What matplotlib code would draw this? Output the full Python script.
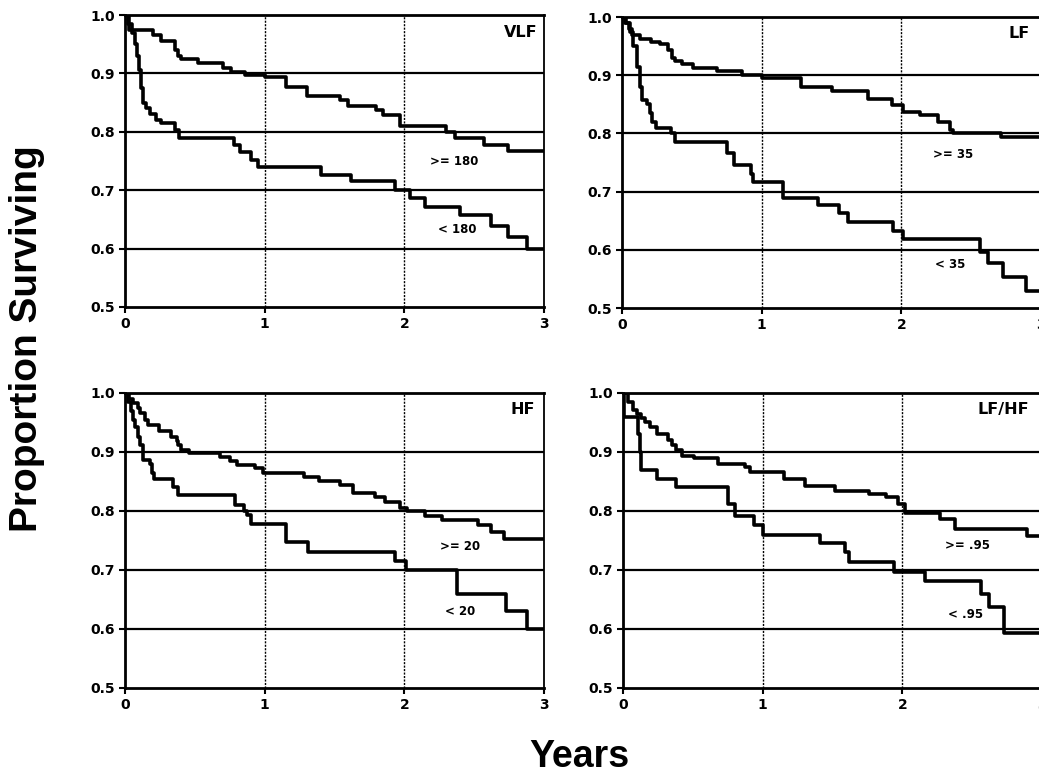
import numpy as np
import matplotlib
matplotlib.use("Agg")
import matplotlib.pyplot as plt

# survival curves (time in years, proportion surviving)
vlf_hi_t = [0, 0.03, 0.20, 0.26, 0.36, 0.38, 0.40, 0.52, 0.70, 0.76, 0.86, 1.00, 1.15, 1.30, 1.54, 1.60, 1.80, 1.85, 1.97, 2.30, 2.36, 2.57, 2.74, 3.0]
vlf_hi_s = [1.0, 0.975, 0.965, 0.955, 0.94, 0.93, 0.925, 0.918, 0.91, 0.903, 0.898, 0.893, 0.876, 0.862, 0.855, 0.845, 0.838, 0.828, 0.81, 0.80, 0.79, 0.778, 0.767, 0.767]
vlf_lo_t = [0, 0.02, 0.05, 0.07, 0.085, 0.10, 0.115, 0.13, 0.15, 0.18, 0.22, 0.26, 0.36, 0.39, 0.78, 0.82, 0.90, 0.95, 1.40, 1.62, 1.93, 2.04, 2.15, 2.40, 2.62, 2.74, 2.88, 3.0]
vlf_lo_s = [1.0, 0.985, 0.97, 0.95, 0.93, 0.905, 0.875, 0.85, 0.84, 0.83, 0.82, 0.815, 0.803, 0.79, 0.778, 0.766, 0.752, 0.74, 0.726, 0.715, 0.70, 0.686, 0.672, 0.658, 0.638, 0.62, 0.60, 0.60]

lf_hi_t = [0, 0.02, 0.05, 0.07, 0.13, 0.21, 0.27, 0.33, 0.36, 0.38, 0.43, 0.51, 0.68, 0.86, 1.0, 1.28, 1.50, 1.76, 1.93, 2.01, 2.13, 2.26, 2.35, 2.37, 2.71, 3.0]
lf_hi_s = [1.0, 0.99, 0.98, 0.969, 0.963, 0.957, 0.953, 0.943, 0.93, 0.925, 0.92, 0.913, 0.907, 0.90, 0.895, 0.88, 0.873, 0.86, 0.849, 0.837, 0.832, 0.82, 0.806, 0.80, 0.794, 0.794]
lf_lo_t = [0, 0.03, 0.06, 0.08, 0.107, 0.125, 0.143, 0.18, 0.20, 0.215, 0.24, 0.35, 0.38, 0.75, 0.80, 0.92, 0.94, 1.15, 1.40, 1.55, 1.62, 1.94, 2.01, 2.56, 2.62, 2.73, 2.89, 3.0]
lf_lo_s = [1.0, 0.99, 0.975, 0.95, 0.914, 0.88, 0.857, 0.85, 0.835, 0.82, 0.81, 0.80, 0.786, 0.766, 0.746, 0.73, 0.717, 0.689, 0.677, 0.663, 0.647, 0.632, 0.618, 0.596, 0.578, 0.553, 0.529, 0.529]

hf_hi_t = [0, 0.03, 0.06, 0.09, 0.107, 0.14, 0.167, 0.24, 0.33, 0.37, 0.38, 0.40, 0.46, 0.68, 0.75, 0.80, 0.93, 0.99, 1.28, 1.39, 1.54, 1.63, 1.79, 1.86, 1.97, 2.02, 2.15, 2.27, 2.53, 2.62, 2.71, 3.0]
hf_hi_s = [1.0, 0.99, 0.983, 0.975, 0.966, 0.955, 0.946, 0.935, 0.926, 0.918, 0.912, 0.903, 0.898, 0.892, 0.884, 0.878, 0.872, 0.865, 0.858, 0.85, 0.844, 0.83, 0.824, 0.816, 0.805, 0.80, 0.791, 0.785, 0.776, 0.764, 0.753, 0.753]
hf_lo_t = [0, 0.02, 0.04, 0.06, 0.07, 0.09, 0.107, 0.13, 0.18, 0.19, 0.21, 0.345, 0.38, 0.79, 0.85, 0.87, 0.90, 1.15, 1.31, 1.93, 2.01, 2.38, 2.73, 2.88, 3.0]
hf_lo_s = [1.0, 0.985, 0.97, 0.955, 0.943, 0.925, 0.912, 0.886, 0.88, 0.865, 0.855, 0.84, 0.827, 0.81, 0.80, 0.793, 0.778, 0.747, 0.73, 0.716, 0.70, 0.659, 0.63, 0.60, 0.60]

lfhf_hi_t = [0, 0.035, 0.07, 0.10, 0.13, 0.16, 0.19, 0.24, 0.32, 0.35, 0.38, 0.42, 0.51, 0.68, 0.87, 0.91, 1.15, 1.30, 1.52, 1.76, 1.88, 1.97, 2.02, 2.27, 2.38, 2.89, 3.0]
lfhf_hi_s = [1.0, 0.985, 0.971, 0.964, 0.957, 0.95, 0.943, 0.931, 0.92, 0.912, 0.903, 0.894, 0.889, 0.88, 0.874, 0.866, 0.854, 0.843, 0.834, 0.829, 0.823, 0.811, 0.797, 0.786, 0.769, 0.757, 0.757]
lfhf_lo_t = [0, 0.01, 0.11, 0.12, 0.13, 0.24, 0.38, 0.75, 0.80, 0.94, 1.0, 1.41, 1.59, 1.62, 1.94, 2.16, 2.56, 2.62, 2.73, 3.0]
lfhf_lo_s = [1.0, 0.96, 0.93, 0.90, 0.869, 0.854, 0.84, 0.811, 0.791, 0.777, 0.76, 0.746, 0.731, 0.714, 0.697, 0.681, 0.66, 0.637, 0.593, 0.593]

panel_names = ["VLF", "LF", "HF", "LF/HF"]
hi_labels = [">= 180", ">= 35", ">= 20", ">= .95"]
lo_labels = ["< 180", "< 35", "< 20", "< .95"]
# label anchor points (years, proportion)
hi_label_pos = [(2.36, 0.75), (2.37, 0.763), (2.40, 0.74), (2.47, 0.742)]
lo_label_pos = [(2.38, 0.632), (2.35, 0.574), (2.40, 0.629), (2.45, 0.624)]
name_pos = [(2.83, 0.97), (2.84, 0.972), (2.85, 0.972), (2.72, 0.972)]

curves = [
    (vlf_hi_t, vlf_hi_s, vlf_lo_t, vlf_lo_s),
    (lf_hi_t, lf_hi_s, lf_lo_t, lf_lo_s),
    (hf_hi_t, hf_hi_s, hf_lo_t, hf_lo_s),
    (lfhf_hi_t, lfhf_hi_s, lfhf_lo_t, lfhf_lo_s),
]

# axes boxes in figure fractions [left, bottom, width, height]; right column runs off the page as in the scan
boxes = [
    [0.1203, 0.6054, 0.4033, 0.3753],
    [0.5987, 0.6041, 0.4033, 0.3740],
    [0.1203, 0.1157, 0.4033, 0.3792],
    [0.5996, 0.1157, 0.4033, 0.3792],
]

fig = plt.figure(figsize=(10.39, 7.78), dpi=100)

for i in range(4):
    ax = fig.add_axes(boxes[i])
    hi_t, hi_s, lo_t, lo_s = curves[i]
    ax.set_xlim(0, 3)
    ax.set_ylim(0.5, 1.0)

    for yv in [0.6, 0.7, 0.8, 0.9]:
        ax.axhline(yv, color="black", lw=1.6, zorder=1)
    for xv in [1, 2]:
        ax.axvline(xv, color="black", lw=1.0, ls=(0, (1.5, 1.0)), zorder=1)

    ax.step(hi_t, hi_s, where="post", color="black", lw=2.6, zorder=3)
    ax.step(lo_t, lo_s, where="post", color="black", lw=2.6, zorder=3)

    ax.text(*hi_label_pos[i], hi_labels[i], ha="center", va="center",
            fontsize=8.5, fontweight="bold", family="DejaVu Sans")
    ax.text(*lo_label_pos[i], lo_labels[i], ha="center", va="center",
            fontsize=8.5, fontweight="bold", family="DejaVu Sans")
    ax.text(*name_pos[i], panel_names[i], ha="center", va="center",
            fontsize=11.5, fontweight="bold", family="DejaVu Sans")

    ax.set_xticks([0, 1, 2, 3])
    ax.set_yticks([0.5, 0.6, 0.7, 0.8, 0.9, 1.0])
    ax.set_yticklabels(["0.5", "0.6", "0.7", "0.8", "0.9", "1.0"])
    ax.tick_params(direction="out", length=4, width=1.5, labelsize=10, pad=3)
    for lab in ax.get_xticklabels() + ax.get_yticklabels():
        lab.set_fontweight("bold")
        lab.set_family("DejaVu Sans")
    for side in ["left", "bottom", "top"]:
        ax.spines[side].set_linewidth(2.0)
    ax.spines["right"].set_linewidth(1.3)

fig.text(0.026, 0.565, "Proportion Surviving", rotation=90, ha="center", va="center",
         fontsize=28, fontweight="bold", family="Liberation Sans")
fig.text(0.558, 0.014, "Years", ha="center", va="baseline",
         fontsize=27, fontweight="bold", family="Liberation Sans")

fig.savefig("out.png", dpi=100)
